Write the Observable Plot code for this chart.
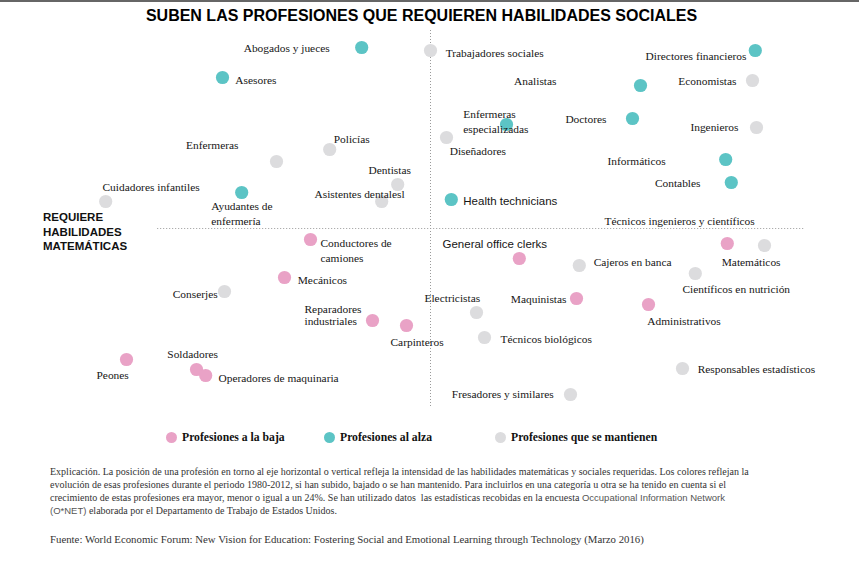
<!DOCTYPE html>
<html><head><meta charset="utf-8">
<script src="https://cdn.jsdelivr.net/npm/d3@7"></script>
<script src="https://cdn.jsdelivr.net/npm/@observablehq/plot@0.6"></script>
<style>
html,body{margin:0;padding:0;background:#fff;}
#wrap{position:relative;width:859px;height:587px;overflow:hidden;border-top:2px solid #666;box-sizing:border-box;}
#title{position:absolute;top:5px;left:0;width:859px;text-align:center;font:bold 16px "Liberation Sans",Arial,sans-serif;color:#000;margin-left:-8px;}
#chart{position:absolute;top:26px;left:0;}
#axislab{position:absolute;left:43px;top:208px;font:bold 11.5px "Liberation Sans",Arial,sans-serif;line-height:14.5px;color:#111;}
.leg{position:absolute;top:429px;font:bold 11.7px "Liberation Serif",serif;color:#111;display:flex;align-items:center;white-space:nowrap;}
.leg i{display:inline-block;width:11px;height:11px;border-radius:50%;margin-right:5px;}
#cap{position:absolute;left:50px;top:463px;font:10px "Liberation Serif",serif;line-height:13px;color:#333;white-space:nowrap;}
#cap .s{font-family:"Liberation Sans",Arial,sans-serif;color:#555;font-size:9.5px;}
#src{position:absolute;left:50px;top:531px;font:10.8px "Liberation Serif",serif;color:#333;white-space:nowrap;}
</style></head>
<body>
<div id="wrap">
<div id="title">SUBEN LAS PROFESIONES QUE REQUIEREN HABILIDADES SOCIALES</div>
<div id="chart"></div>
<div id="axislab">REQUIERE<br>HABILIDADES<br>MATEMÁTICAS</div>
<div id="legend"></div>
<div id="cap">Explicación. La posición de una profesión en torno al eje horizontal o vertical refleja la intensidad de las habilidades matemáticas y sociales requeridas. Los colores reflejan la<br>evolución de esas profesiones durante el periodo 1980-2012, si han subido, bajado o se han mantenido. Para incluirlos en una categoría u otra se ha tenido en cuenta si el<br>crecimiento de estas profesiones era mayor, menor o igual a un 24%. Se han utilizado datos&nbsp; las estadísticas recobidas en la encuesta <span class="s">Occupational Information Network</span><br><span class="s">(O*NET)</span> elaborada por el Departamento de Trabajo de Estados Unidos.</div>
<div id="src">Fuente: World Economic Forum: New Vision for Education: Fostering Social and Emotional Learning through Technology (Marzo 2016)</div>
</div>
<script>
// Profession names and labels (labels may wrap onto two lines)
const names = [
  "Abogados y jueces","Asesores","Ayudantes de enfermería","Enfermeras especializadas","Health technicians",
  "Analistas","Doctores","Directores financieros","Informáticos","Contables",
  "Trabajadores sociales","Economistas","Ingenieros","Diseñadores","Enfermeras","Policías","Dentistas",
  "Asistentes dentalesl","Cuidadores infantiles","Técnicos ingenieros y científicos","Cajeros en banca",
  "Científicos en nutrición","Conserjes","Electricistas","Técnicos biológicos","Responsables estadísticos",
  "Fresadores y similares",
  "Conductores de camiones","Mecánicos","Reparadores industriales","Carpinteros","Soldadores",
  "Operadores de maquinaria","Peones","General office clerks","Maquinistas","Administrativos","Matemáticos"
];
const labels = [
  "Abogados y jueces","Asesores","Ayudantes de\nenfermería","Enfermeras\nespecializadas","Health technicians",
  "Analistas","Doctores","Directores financieros","Informáticos","Contables",
  "Trabajadores sociales","Economistas","Ingenieros","Diseñadores","Enfermeras","Policías","Dentistas",
  "Asistentes dentalesl","Cuidadores infantiles","Técnicos ingenieros y científicos","Cajeros en banca",
  "Científicos en nutrición","Conserjes","Electricistas","Técnicos biológicos","Responsables estadísticos",
  "Fresadores y similares",
  "Conductores de\ncamiones","Mecánicos","Reparadores\nindustriales","Carpinteros","Soldadores",
  "Operadores de maquinaria","Peones","General office clerks","Maquinistas","Administrativos","Matemáticos"
];
// Trend 1980-2012
const trend = [
  "alza","alza","alza","alza","alza","alza","alza","alza","alza","alza",
  "mantiene","mantiene","mantiene","mantiene","mantiene","mantiene","mantiene","mantiene","mantiene",
  "mantiene","mantiene","mantiene","mantiene","mantiene","mantiene","mantiene","mantiene",
  "baja","baja","baja","baja","baja","baja","baja","baja","baja","baja","baja"
];
// Horizontal position (matemáticas) and vertical position (sociales), arbitrary units centred on 0
const mathSkill = [
  -8.6,-26,-23.6,9.5,2.6,26.25,25.25,40.6,36.9,37.6,
  0,40.25,40.75,2,-19.25,-12.6,-4.1,-6.1,-40.6,41.75,18.6,33.1,-25.75,5.75,6.75,31.5,17.5,
  -15,-18.25,-7.25,-3,-29.25,-28.1,-38,11.1,18.25,27.25,37.1
];
const socialSkill = [
  45.25,37.75,9,26,7.25,35.75,27.5,44.5,17.25,11.5,
  44.5,37,25.25,22.75,16.75,19.75,11,6.75,6.75,-4.25,-9.25,-11.25,-15.75,-21,-27.25,-35,-41.5,
  -2.75,-12.25,-23,-24.25,-35.25,-36.75,-32.75,-7.5,-17.5,-19,-3.75
];
// Annotation anchor points for the labels (same units)
const labelX = [
  -12.6,-24.4,-27.4,4.1,4.1,15.75,22,39.5,29.4,33.75,
  1.9,38.25,38.5,2.4,-24,-12.1,-7.75,-14.5,-41,21.75,20.4,31.5,-26.6,-0.75,8.75,33.4,15.4,
  -13.75,-16.6,-15.75,-5,-32.9,-26.5,-41.75,1.5,17,27.1,36.4
];
const labelY = [
  45.25,37.25,3.9,26.9,6.75,37,27.5,43.25,17,11.5,
  44,37,25.5,19.5,21,22.5,14.75,8.75,10.5,2,-8.25,-15,-16.25,-17.25,-27.5,-35,-41.25,
  -5.4,-12.75,-21.75,-28.25,-31.25,-37.25,-36.5,-4,-17.5,-23,-8.25
];
const labelSide = [
  "end","start","start","start","start","end","end","end","end","end",
  "start","end","end","start","end","start","start","start","start","start","start","start","end","start","start","start","end",
  "start","start","start","start","start","start","start","start","end","start","start"
];
const sansLabels = ["Health technicians","General office clerks"];
const tightLabels = ["Reparadores industriales"];
const trendOrder = ["baja","alza","mantiene"];
const trendNames = ["Profesiones a la baja","Profesiones al alza","Profesiones que se mantienen"];
const trendColors = ["#e9a2c6","#5cc4c5","#dcdcde"];

const data = names.map((n,i)=>({name:n,label:labels[i],trend:trend[i],x:mathSkill[i],y:socialSkill[i],lx:labelX[i],ly:labelY[i],side:labelSide[i]}));

function textMark(filter, anchor, opts){
  return Plot.text(data.filter(d=>d.side===anchor && filter(d)), {
    x:"lx", y:"ly", text:"label", textAnchor:anchor, lineAnchor:"middle",
    fill:"#161616", ...opts
  });
}
const serif = d => !sansLabels.includes(d.name) && !tightLabels.includes(d.name);
const serifOpts = {fontFamily:"Liberation Serif, serif", fontSize:11.4, lineHeight:1.32};

const chart = Plot.plot({
  width:859, height:400,
  marginLeft:30, marginRight:29, marginTop:0, marginBottom:0,
  x:{domain:[-50,50], axis:null},
  y:{domain:[-50,50], axis:null},
  color:{domain:trendOrder, range:trendColors},
  marks:[
    Plot.ruleX([0], {y1:49.5, y2:-44.75, stroke:"#9a9a9a", strokeWidth:1, strokeDasharray:"1,2"}),
    Plot.ruleY([0], {x1:-34.1, x2:46.9, stroke:"#9a9a9a", strokeWidth:1, strokeDasharray:"1,2"}),
    Plot.dot(data, {x:"x", y:"y", r:6.6, fill:"trend", stroke:null}),
    textMark(serif, "start", serifOpts),
    textMark(serif, "end", serifOpts),
    textMark(d=>tightLabels.includes(d.name), "start", {fontFamily:"Liberation Serif, serif", fontSize:11.4, lineHeight:1.05}),
    textMark(d=>sansLabels.includes(d.name), "start", {fontFamily:"Liberation Sans, Arial, sans-serif", fontSize:11.5})
  ]
});
document.getElementById("chart").appendChild(chart);

// legend
const legLeft = [166,324,495];
const legend = document.getElementById("legend");
trendOrder.forEach((t,i)=>{
  const el = document.createElement("div");
  el.className = "leg";
  el.style.left = legLeft[i] + "px";
  el.innerHTML = `<i style="background:${trendColors[i]}"></i>${trendNames[i]}`;
  legend.appendChild(el);
});
</script>
</body></html>
